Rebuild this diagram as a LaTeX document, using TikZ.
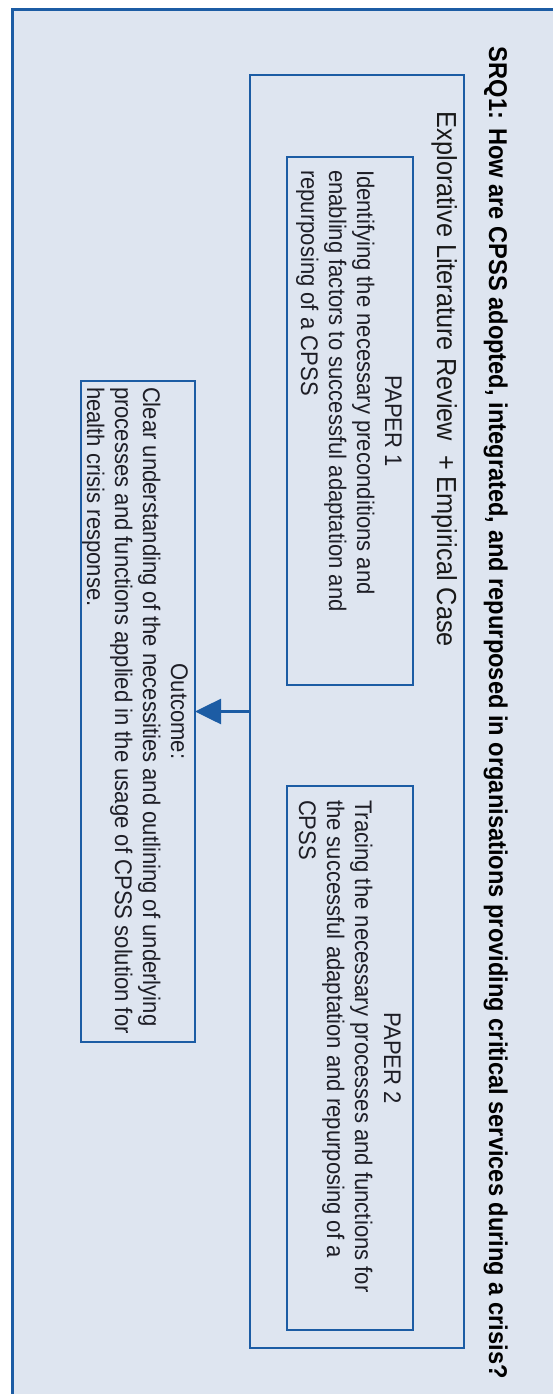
\documentclass[tikz,border=0pt]{standalone}
\usepackage{fontspec}
\setmainfont{Liberation Sans}
\newfontfamily\narrowfont{Liberation Sans}[FakeStretch=0.92]
\usetikzlibrary{arrows.meta}
\definecolor{frameblue}{RGB}{28,92,164}
\definecolor{panel}{RGB}{222,229,240}
\definecolor{ink}{RGB}{30,30,38}
\tikzset{
  boxline/.style={draw=frameblue, line width=2.6pt, inner sep=0pt, outer sep=0pt},
  txt/.style={rotate=-90, anchor=base west, inner sep=0pt, outer sep=0pt, text=ink,
    font=\narrowfont\fontsize{24}{27.5}\selectfont},
  ctxt/.style={txt, anchor=base},
  headline/.style={txt, text=black, font=\narrowfont\bfseries\fontsize{25.7}{29}\selectfont},
  method/.style={txt, text=black!90, font=\narrowfont\fontsize{27.5}{31}\selectfont},
  flow/.style={draw=frameblue, line width=2.6pt, -{Triangle[length=26pt,width=25pt]}},
}
\begin{document}
\begin{tikzpicture}[x=1pt,y=-1pt]
\useasboundingbox (0,0) rectangle (553,1394);
\fill[white] (0,0) rectangle (553,1394);
% outer panel, running off the page on the right and at the bottom
\draw[fill=panel, draw=frameblue, line width=3.5pt] (12.7,9.5) rectangle (600,1450);

% boxes
\node[boxline, minimum width=214pt, minimum height=1273pt] (review) at (357,711.5) {};
\node[boxline, minimum width=126pt, minimum height=528pt] (paper1) at (350,421) {};
\node[boxline, minimum width=126pt, minimum height=544pt] (paper2) at (350,1058) {};
\node[boxline, minimum width=114pt, minimum height=661pt] (outcome) at (138,711.5) {};

% heading
\node[headline] (srq) at (489,47) {SRQ1: How are CPSS adopted, integrated, and repurposed in organisations providing critical services during a crisis?};
\node[method] (method) at (437,112) {Explorative Literature Review\ \ + Empirical Case};

% paper 1
\node[ctxt] (p1title) at (385,421) {PAPER 1};
\node[txt] (p1a) at (357,170) {Identifying the necessary preconditions and};
\node[txt] (p1b) at (329,170) {enabling factors to successful adaptation and};
\node[txt] (p1c) at (301,170) {repurposing of a CPSS};

% paper 2
\node[ctxt] (p2title) at (384,1058) {PAPER 2};
\node[txt] (p2a) at (355,800) {Tracing the necessary processes and functions for};
\node[txt] (p2b) at (327,800) {the successful adaptation and repurposing of a};
\node[txt] (p2c) at (299,800) {CPSS};

% outcome
\node[ctxt] (otitle) at (171,711.5) {Outcome:};
\node[txt] (oa) at (143,387) {Clear understanding of the necessities and outlining of underlying};
\node[txt] (ob) at (115,387) {processes and functions applied in the usage of CPSS solution for};
\node[txt] (oc) at (87,387) {health crisis response.};

\draw[flow] (review.west) -- (outcome.east);
\end{tikzpicture}
\end{document}
